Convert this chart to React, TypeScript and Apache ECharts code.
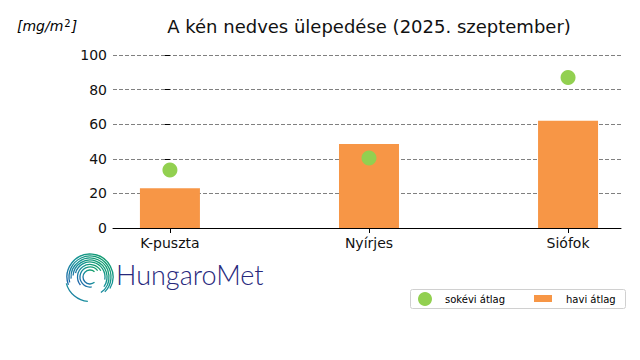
import React, { useEffect, useRef } from "react";
import * as echarts from "echarts";

const categories = ["K-puszta", "Nyírjes", "Siófok"];
const haviAtlag = [23, 48.5, 62];
const sokeviAtlag = [33.5, 40.5, 87];
const yTicks = [0, 20, 40, 60, 80, 100];

const FONT = "DejaVu Sans";
const ORANGE = "#f79646";
const GREEN = "#92d050";

export default function App() {
  const ref = useRef<HTMLDivElement>(null);
  useEffect(() => {
    if (!ref.current) return;
    const chart = echarts.init(ref.current, null, { renderer: "svg" });
    const idx = categories.map((_, i) => i);
    const d = Math.PI / 180;
    const cx = 90, cy = 277;
    const grad = () =>
      new echarts.graphic.LinearGradient(0, 1, 1, 0, [
        { offset: 0, color: "#1f5fae" },
        { offset: 0.5, color: "#17929a" },
        { offset: 1, color: "#10a060" },
      ]);
    const rings = [
      { r: 23, s: -200, e: 30 },
      { r: 21, s: -195, e: 45 },
      { r: 19, s: -185, e: 55 },
      { r: 17, s: -175, e: 35 },
      { r: 15, s: -165, e: 10 },
      { r: 12.5, s: 140, e: 330 },
      { r: 10, s: 80, e: 320 },
      { r: 7, s: 50, e: 310 },
      { r: 24.5, s: 95, e: 165 },
    ];
    const arcs: any[] = rings.map((g) => ({
      type: "arc",
      silent: true,
      shape: { cx, cy, r: g.r, startAngle: g.s * d, endAngle: g.e * d, clockwise: true },
      style: { stroke: grad(), lineWidth: 1.3, fill: "none" },
    }));
    const legend: any[] = [
      {
        type: "rect",
        silent: true,
        shape: { x: 410.5, y: 289.5, width: 215, height: 19, r: 2 },
        style: { fill: "#fff", stroke: "#d0d0d0", lineWidth: 1 },
      },
      { type: "circle", silent: true, shape: { cx: 425, cy: 299, r: 7 }, style: { fill: GREEN } },
      {
        type: "text",
        silent: true,
        x: 445,
        y: 299,
        style: { text: "sokévi átlag", fontFamily: FONT, fontSize: 10, fill: "#000", verticalAlign: "middle" },
      },
      { type: "rect", silent: true, shape: { x: 534, y: 295, width: 18, height: 7 }, style: { fill: ORANGE } },
      {
        type: "text",
        silent: true,
        x: 566,
        y: 299,
        style: { text: "havi átlag", fontFamily: FONT, fontSize: 10, fill: "#000", verticalAlign: "middle" },
      },
    ];
    chart.setOption({
      animation: false,
      textStyle: { fontFamily: FONT },
      title: {
        text: "A kén nedves ülepedése (2025. szeptember)",
        left: 364,
        textAlign: "center",
        top: 12,
        textStyle: { fontFamily: FONT, fontSize: 18, fontWeight: "normal", color: "#111" },
      },
      grid: { left: 113, right: 19, top: 55, bottom: 132 },
      xAxis: {
        type: "value",
        min: -0.286,
        max: 2.266,
        splitLine: { show: false },
        axisLine: { show: true, onZero: false, lineStyle: { color: "#000", width: 1 } },
        axisTick: { show: true, length: 5, lineStyle: { color: "#000" }, customValues: idx },
        axisLabel: {
          customValues: idx,
          formatter: (v: number) => categories[Math.round(v)] ?? "",
          fontFamily: FONT,
          fontSize: 14,
          color: "#111",
          margin: 8,
        },
      },
      yAxis: {
        type: "value",
        min: 0,
        max: 100,
        interval: 20,
        axisLine: { show: false },
        axisTick: { show: true, length: 5, lineStyle: { color: "#000" } },
        axisLabel: {
          fontFamily: FONT,
          fontSize: 14,
          color: "#111",
          margin: 6,
          customValues: yTicks,
        },
        splitLine: { show: true, lineStyle: { type: [4, 2], color: "#808080", width: 1 } },
      },
      series: [
        {
          name: "havi átlag",
          type: "bar",
          data: haviAtlag.map((v, i) => [i, v]),
          barWidth: 60,
          itemStyle: { color: ORANGE },
          z: 2,
        },
        {
          name: "sokévi átlag",
          type: "scatter",
          data: sokeviAtlag.map((v, i) => [i, v]),
          symbol: "circle",
          symbolSize: 15,
          itemStyle: { color: GREEN, opacity: 1 },
          z: 3,
        },
      ],
      graphic: [
        {
          type: "text",
          silent: true,
          x: 17,
          y: 26,
          style: {
            text: "{a|[mg/m}{s|2}{a|]}",
            verticalAlign: "middle",
            rich: {
              a: { fontFamily: FONT, fontStyle: "italic", fontSize: 14, fill: "#000", color: "#000" },
              s: { fontFamily: FONT, fontSize: 10, color: "#000", fill: "#000", verticalAlign: "top", padding: [0, 1, 6, 1] },
            },
          },
        },
        ...arcs,
        {
          type: "text",
          left: 116,
          top: 261,
          silent: true,
          style: {
            text: "HungaroMet",
            fontFamily: "Lato",
            fontSize: 27,
            fontWeight: 300,
            fill: "#27287c",
          },
        },
        ...legend,
      ],
    });
    return () => chart.dispose();
  }, []);
  return <div ref={ref} style={{ width: 640, height: 360, position: "absolute", left: 0, top: 0 }} />;
}
